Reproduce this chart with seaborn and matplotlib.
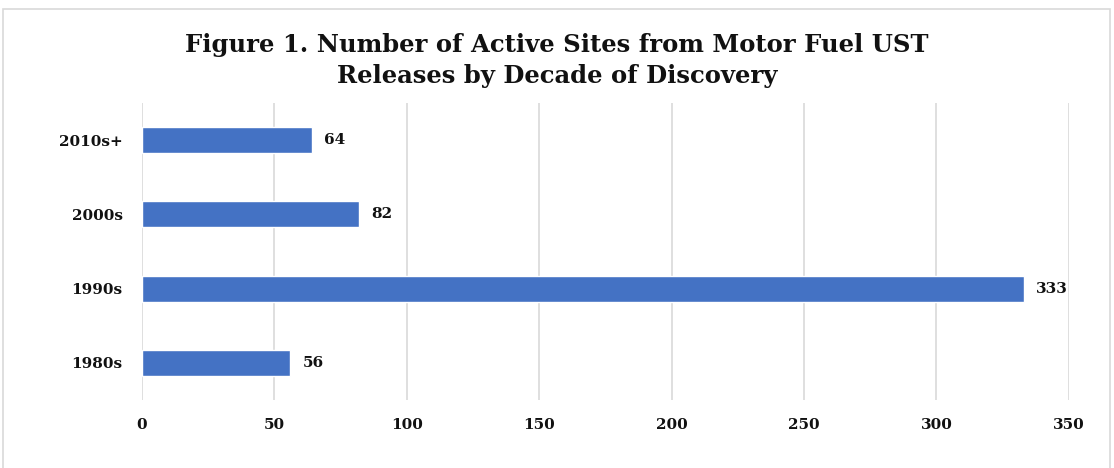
import matplotlib
matplotlib.use("Agg")
import matplotlib.pyplot as plt
import seaborn as sns
import pandas as pd
from matplotlib.patches import Rectangle

decades = ["2010s+", "2000s", "1990s", "1980s"]
active_sites = [64, 82, 333, 56]
x_ticks = [0, 50, 100, 150, 200, 250, 300, 350]

df = pd.DataFrame({"decade": decades, "sites": active_sites})

sns.set_theme(style="white")
plt.rcParams["font.family"] = ["DejaVu Serif"]
plt.rcParams["text.color"] = "#111111"
plt.rcParams["xtick.color"] = "#111111"
plt.rcParams["ytick.color"] = "#111111"

fig = plt.figure(figsize=(11.14, 4.68), dpi=100)
ax = fig.add_axes([0.1275, 0.1453, 0.832, 0.6346])

sns.barplot(data=df, x="sites", y="decade", order=decades, color="#4472C4",
            saturation=1, width=0.35, ax=ax)

ax.set_xlim(0, 350)
ax.set_xticks(x_ticks)
ax.xaxis.grid(True, color="#D9D9D9", linewidth=1.2)
ax.set_axisbelow(True)
for s in ax.spines.values():
    s.set_visible(False)
ax.tick_params(axis="both", length=0)
ax.tick_params(axis="x", pad=13, labelsize=11)
ax.tick_params(axis="y", pad=14, labelsize=11)
for lbl in ax.get_yticklabels() + ax.get_xticklabels():
    lbl.set_fontweight("bold")
ax.set_xlabel("")
ax.set_ylabel("")

ax.bar_label(ax.containers[0], padding=9, fontsize=11, fontweight="bold")

fig.text(0.5, 0.904, "Figure 1. Number of Active Sites from Motor Fuel UST",
         ha="center", va="center", fontsize=17.5, fontweight="bold")
fig.text(0.5, 0.838, "Releases by Decade of Discovery",
         ha="center", va="center", fontsize=17.5, fontweight="bold")

fig.patches.append(Rectangle((0.003, -0.01), 0.993, 0.99, transform=fig.transFigure,
                             fill=False, edgecolor="#D9D9D9", linewidth=1.2))

fig.savefig("out.png", dpi=100)
